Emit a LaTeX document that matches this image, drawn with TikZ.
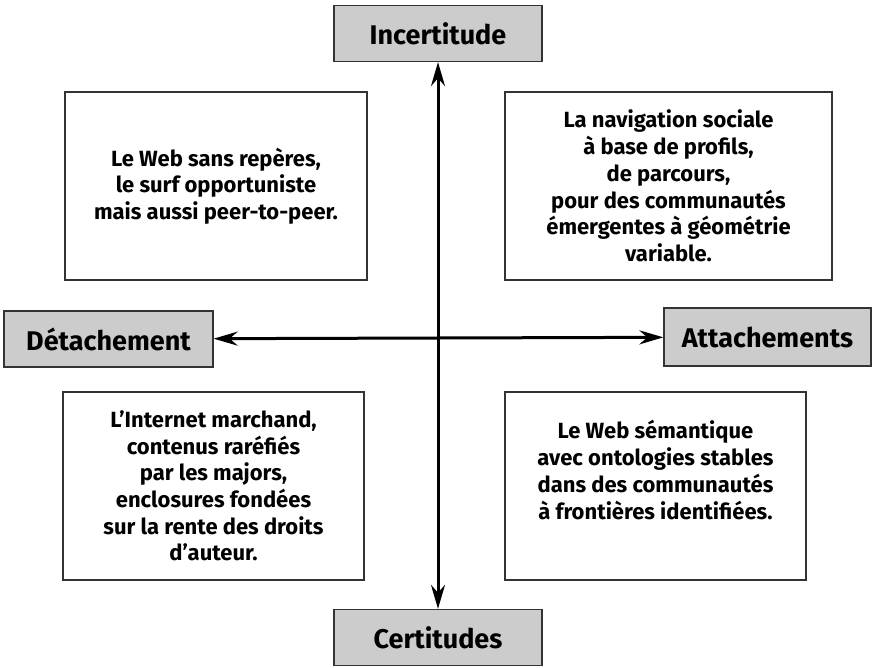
\documentclass[tikz,border=0pt]{standalone}
\usepackage{fontspec}
\setmainfont{Fira Sans}
\usetikzlibrary{arrows.meta}

\begin{document}
\begin{tikzpicture}[x=1pt,y=-1pt,
  axisbox/.style={draw=black!80,line width=1.3pt,fill=black!20,minimum width=208pt,minimum height=56pt,font=\fontsize{27}{32}\selectfont\bfseries},
  quadbox/.style={draw=black!80,line width=1.3pt,minimum height=188pt},
  quadtext/.style={font=\fontsize{22}{26.7}\selectfont\bfseries,align=center},
  axis/.style={line width=3pt,{Stealth[length=24pt,width=14pt,inset=8pt]}-{Stealth[length=24pt,width=14pt,inset=8pt]}}]
\useasboundingbox (0,0) rectangle (873,667);

\node[axisbox] (incert) at (438,33.5) {Incertitude};
\node[axisbox] (certit) at (438,637.5) {Certitudes};
\node[axisbox,minimum width=209pt] (detach) at (108.5,339) {Détachement};
\node[axisbox,minimum width=207pt,minimum height=58pt] (attach) at (767.5,337) {Attachements};

\node[quadbox,quadtext,minimum width=302pt] (webfree) at (216,186) {Le Web sans repères,\\le surf opportuniste\\mais aussi peer-to-peer.};
\node[quadbox,quadtext,minimum width=327pt] (social) at (668.5,186) {La navigation sociale\\à base de profils,\\de parcours,\\pour des communautés\\émergentes à géométrie\\variable.};
\node[quadbox,quadtext,minimum width=301pt] (market) at (213.5,486) {L’Internet marchand,\\contenus raréfiés\\par les majors,\\enclosures fondées\\sur la rente des droits\\d’auteur.};
\node[quadbox,minimum width=301pt] (semweb) at (655.5,486) {};
\node[quadtext] (semtext) at ([yshift=16pt]semweb.center) {Le Web sémantique\\avec ontologies stables\\dans des communautés\\à frontières identifiées.};

\draw[axis] (incert) -- (certit);
\draw[axis] (detach) -- (attach);

\end{tikzpicture}
\end{document}
